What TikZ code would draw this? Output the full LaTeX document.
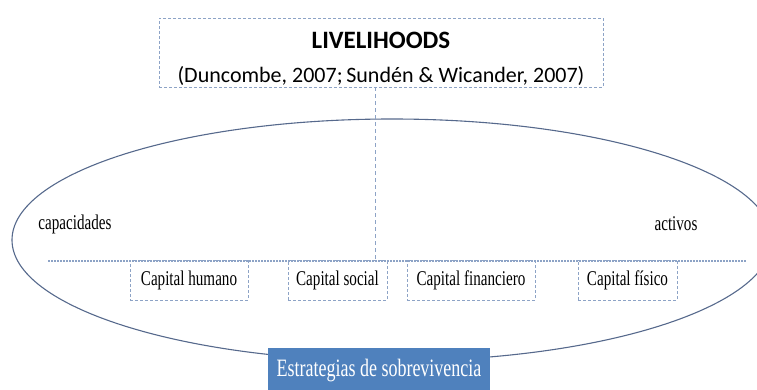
\documentclass[tikz,border=0pt]{standalone}
\usepackage{fontspec}
\setmainfont{Liberation Serif}
\newfontfamily\titulofont{Carlito}
\newfontfamily\estrechafont[FakeStretch=0.72]{Liberation Serif}
\definecolor{borde}{HTML}{8DA3C6}
\definecolor{elipse}{HTML}{56698C}
\definecolor{azul}{HTML}{4F81BD}

\begin{document}
\begin{tikzpicture}[x=1pt, y=-1pt,
        capital/.style={draw=borde, dash pattern=on 3pt off 2pt, line width=0.9pt,
            minimum height=40pt, inner xsep=7pt, font=\estrechafont\fontsize{21}{21}\selectfont},
        etiqueta/.style={font=\estrechafont\fontsize{21}{21}\selectfont}]
        \clip (0,0) rectangle (757,390);

        % Elipse de los medios de vida
        \draw[elipse, line width=1.1pt] (392,240) ellipse [x radius=380, y radius=121];

        % Cuadro superior
        \node[draw=borde, dash pattern=on 3pt off 2pt, line width=0.9pt, align=center,
            inner ysep=0pt, minimum width=444pt, minimum height=69pt, font=\titulofont] (livelihoods) at (381,52.5)
            {\rule{0pt}{29pt}{\fontsize{25}{25}\selectfont\bfseries LIVELIHOODS}\\[17pt]
             {\fontsize{22}{22}\selectfont (Duncombe, 2007;\,Sundén \& Wicander, 2007)}};

        % Linea punteada de los capitales
        \coordinate (linea-izq) at (48,261);
        \coordinate (linea-der) at (747,261);
        \draw[borde, line width=1.2pt, dash pattern=on 1.5pt off 1.5pt] (linea-izq) -- (linea-der);

        % Union del cuadro con la linea
        \draw[borde, line width=0.9pt, dash pattern=on 4pt off 3pt] ([xshift=-6pt]livelihoods.south) -- ([xshift=-6pt]livelihoods.south |- linea-izq);

        % Capacidades y activos
        \node[etiqueta] (capacidades) at (75,224) {capacidades};
        \node[etiqueta] (activos) at (676,224) {activos};

        % Los cuatro capitales
        \node[capital, minimum width=118pt] (humano) at (189,280) {Capital humano};
        \node[capital, minimum width=99pt] (social) at (337.5,280) {Capital social};
        \node[capital, minimum width=128pt] (financiero) at (471,280) {Capital financiero};
        \node[capital, minimum width=99pt] (fisico) at (627.5,280) {Capital físico};

        % Estrategias
        \node[fill=azul, text=white, minimum width=222pt, minimum height=46pt,
            font=\estrechafont\fontsize{25}{25}\selectfont] (estrategias) at (379,371)
            {Estrategias de sobrevivencia};

    \end{tikzpicture}
\end{document}
